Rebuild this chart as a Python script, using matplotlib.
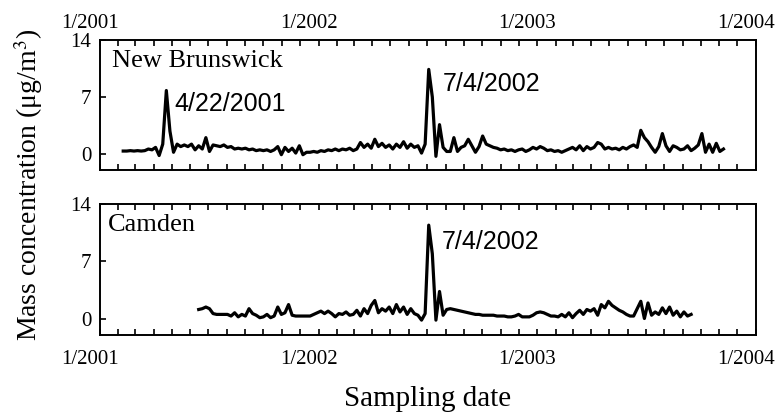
import matplotlib
matplotlib.use('Agg')
import matplotlib.pyplot as plt
import matplotlib.dates as mdates
import matplotlib.transforms as mtransforms
import pandas as pd

plt.rcParams['font.family'] = ['Liberation Serif', 'DejaVu Serif']
plt.rcParams['mathtext.fontset'] = 'stix'

# 1-in-6 day sampling schedule
nb_start = '2001-02-09'
cam_start = '2001-06-15'

# New Brunswick mass concentration (ug/m3)
nb_conc = [0.35, 0.35, 0.4, 0.35, 0.4, 0.35, 0.4, 0.6, 0.5, 0.8,
           -0.2, 1.2, 7.8, 2.8, 0.2, 1.2, 0.9, 1.1, 0.9, 1.2,
           0.5, 1.0, 0.6, 2.0, 0.3, 1.1, 1.0, 0.9, 1.1, 0.8,
           0.9, 0.6, 0.7, 0.6, 0.7, 0.5, 0.6, 0.4, 0.5, 0.4,
           0.5, 0.3, 0.5, 0.9, -0.1, 0.8, 0.3, 0.7, 0.1, 1.0,
           -0.1, 0.2, 0.2, 0.3, 0.2, 0.4, 0.3, 0.5, 0.4, 0.6,
           0.4, 0.6, 0.5, 0.7, 0.4, 0.6, 1.4, 0.8, 1.2, 0.7,
           1.8, 0.9, 1.3, 0.8, 1.1, 0.6, 1.2, 0.8, 1.5, 0.7,
           1.2, 0.8, 1.0, 0.1, 1.2, 10.4, 7.0, -0.3, 3.6, 0.8,
           0.3, 0.3, 2.0, 0.3, 0.8, 1.0, 1.8, 1.0, 0.2, 0.9,
           2.2, 1.2, 1.0, 0.8, 0.7, 0.5, 0.6, 0.4, 0.5, 0.3,
           0.5, 0.6, 0.3, 0.5, 0.8, 0.6, 0.9, 0.7, 0.4, 0.5,
           0.3, 0.4, 0.2, 0.4, 0.6, 0.8, 0.5, 1.0, 0.4, 0.9,
           0.6, 0.8, 1.4, 1.2, 0.6, 0.8, 0.6, 0.7, 0.5, 0.8,
           0.6, 0.9, 1.1, 0.8, 2.9, 2.0, 1.5, 0.8, 0.2, 0.9,
           2.5, 1.0, 0.3, 1.0, 0.8, 0.5, 0.6, 1.0, 0.4, 0.7,
           1.1, 2.5, 0.2, 1.2, 0.2, 1.3, 0.3, 0.6]

# Camden mass concentration (ug/m3)
cam_conc = [1.1, 1.2, 1.4, 1.2, 0.6, 0.5, 0.5, 0.5, 0.5, 0.3,
            0.7, 0.2, 0.5, 0.3, 1.2, 0.6, 0.4, 0.1, 0.2, 0.5,
            0.1, 0.3, 1.4, 0.5, 0.7, 1.7, 0.4, 0.3, 0.3, 0.3,
            0.3, 0.3, 0.5, 0.7, 0.9, 0.6, 0.9, 0.6, 0.2, 0.6,
            0.5, 0.8, 0.4, 0.5, 1.0, 0.3, 1.2, 0.6, 1.6, 2.2,
            0.7, 1.2, 0.9, 1.4, 0.6, 1.7, 0.8, 1.4, 0.5, 1.2,
            0.6, 0.4, -0.2, 0.6, 11.4, 7.9, -0.2, 3.3, 0.4, 1.1,
            1.2, 1.1, 1.0, 0.9, 0.8, 0.7, 0.6, 0.5, 0.5, 0.4,
            0.4, 0.4, 0.4, 0.3, 0.3, 0.3, 0.2, 0.2, 0.3, 0.5,
            0.2, 0.2, 0.2, 0.4, 0.7, 0.8, 0.7, 0.5, 0.3, 0.3,
            0.2, 0.5, 0.2, 0.7, 0.1, 0.6, 1.0, 0.5, 1.1, 0.9,
            1.2, 0.4, 1.7, 1.3, 2.1, 1.6, 1.3, 1.0, 0.8, 0.5,
            0.3, 0.3, 1.2, 2.1, 0.0, 1.9, 0.4, 0.8, 0.5, 1.3,
            0.6, 1.4, 0.4, 0.9, 0.2, 0.8, 0.3, 0.5]

nb_dates = pd.date_range(nb_start, periods=len(nb_conc), freq='6D')
cam_dates = pd.date_range(cam_start, periods=len(cam_conc), freq='6D')

fig = plt.figure(figsize=(7.8, 4.16), dpi=100)
ax1 = fig.add_axes([0.128, 0.591, 0.841, 0.3125])
ax2 = fig.add_axes([0.128, 0.195, 0.841, 0.315])

ax1.plot(nb_dates, nb_conc, color='black', lw=2.3)
ax2.plot(cam_dates, cam_conc, color='black', lw=2.3)

ax1.text(0.018, 0.84, 'New Brunswick', transform=ax1.transAxes, fontsize=19, va='center')
ax2.text(0.012, 0.84, 'Camden', transform=ax2.transAxes, fontsize=19, va='center')

ann_font = ['Liberation Sans Narrow', 'Liberation Sans']
ax1.text(pd.Timestamp('2001-05-06'), 6.2, '4/22/2001', family=ann_font, fontsize=18, va='center')
ax1.text(pd.Timestamp('2002-07-28'), 8.6, '7/4/2002', family=ann_font, fontsize=18, va='center')
ax2.text(pd.Timestamp('2002-07-26'), 9.3, '7/4/2002', family=ann_font, fontsize=18, va='center')

for ax in (ax1, ax2):
    ax.set_xlim(pd.Timestamp('2001-01-01'), pd.Timestamp('2004-01-01'))
    ax.set_ylim(-2, 14)
    ax.set_yticks([0, 7, 14])
    ax.xaxis.set_major_locator(mdates.YearLocator())
    ax.xaxis.set_minor_locator(mdates.MonthLocator())
    ax.xaxis.set_major_formatter(mdates.DateFormatter('1/%Y'))
    ax.tick_params(axis='x', which='both', direction='in', top=True, bottom=True,
                   length=4, width=1.2, labelsize=15)
    ax.tick_params(axis='y', direction='in', length=4, width=1.2, labelsize=15, pad=6)
    for sp in ax.spines.values():
        sp.set_linewidth(1.4)

ax1.tick_params(axis='x', which='both', labeltop=True, labelbottom=False, pad=5)
ax2.tick_params(axis='x', which='both', pad=11)

# year labels sit a little left of their ticks
shift = mtransforms.ScaledTranslation(-0.1, 0, fig.dpi_scale_trans)
for ax in (ax1, ax2):
    for tick in ax.xaxis.get_major_ticks():
        for lab in (tick.label1, tick.label2):
            lab.set_transform(lab.get_transform() + shift)

fig.text(0.037, 0.555, 'Mass concentration (μg/m$^3$)', rotation=90, fontsize=20,
         ha='center', va='center')
fig.text(0.548, 0.042, 'Sampling date', fontsize=21, ha='center', va='center')

fig.savefig('out.png', dpi=100)
